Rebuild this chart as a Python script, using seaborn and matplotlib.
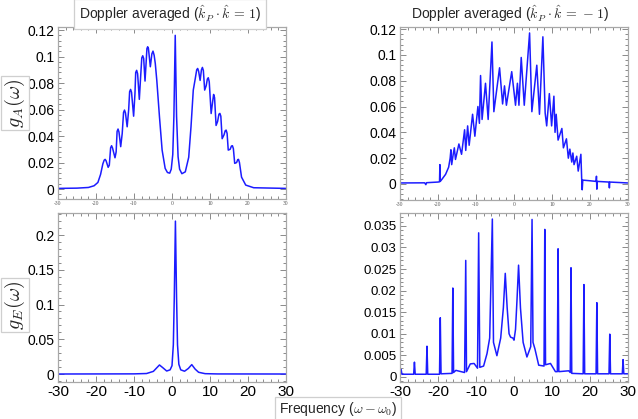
import matplotlib
matplotlib.use("Agg")
import matplotlib.pyplot as plt
from matplotlib.ticker import AutoMinorLocator, FixedLocator
import seaborn as sns

# --- data ---
# top-left: g_A(w), Doppler averaged, kP.k = 1
ga_plus_x = [-30, -25, -22, -20.5, -19.5, -18.8, -18.2, -17.85, -17.6, -17.35, -16.8,
             -16.5, -16.15, -15.9, -15.65, -15.0, -14.7, -14.45, -14.2, -13.95, -13.5,
             -13.1, -12.75, -12.5, -12.25, -11.8, -11.4, -11.15, -10.9, -10.65, -10.1,
             -9.75, -9.55, -9.3, -9.05, -8.6, -8.25, -7.95, -7.7, -7.45, -7.1, -6.8,
             -6.6, -6.4, -6.2, -5.7, -5.3, -5.0, -4.7, -4.4, -4.0, -3.3, -2.6, -1.8,
             -1.2, -0.6, -0.2, 0.2, 0.5, 0.85, 1.2, 1.6, 2.0, 2.6, 3.5, 4.4, 5.0, 5.6,
             6.1, 6.5, 6.75, 7.0, 7.4, 7.75, 8.0, 8.25, 8.6, 9.0, 9.3, 9.55, 9.8, 10.3,
             10.7, 10.95, 11.2, 11.6, 12.0, 12.35, 12.6, 12.85, 13.2, 13.7, 14.0, 14.25,
             14.5, 14.8, 15.3, 15.65, 15.9, 16.15, 16.5, 17.0, 17.3, 17.5, 17.75, 18.3,
             19.4, 21.5, 30]
ga_plus_y = [0.0005, 0.0007, 0.0012, 0.0025, 0.0050, 0.0110, 0.0190, 0.0218, 0.0224,
             0.0214, 0.0164, 0.0180, 0.0312, 0.0327, 0.0310, 0.0236, 0.0280, 0.0435,
             0.0453, 0.0430, 0.0320, 0.0420, 0.0578, 0.0596, 0.0575, 0.0470, 0.0600,
             0.0735, 0.0752, 0.0730, 0.0550, 0.0720, 0.0880, 0.0896, 0.0870, 0.0677,
             0.0850, 0.0990, 0.1006, 0.0985, 0.0815, 0.0960, 0.1060, 0.1074, 0.1060,
             0.0923, 0.1020, 0.1041, 0.1010, 0.0948, 0.0820, 0.0546, 0.0294, 0.0156,
             0.0125, 0.0120, 0.0150, 0.0260, 0.0550, 0.1160, 0.0550, 0.0244, 0.0150,
             0.0116, 0.0130, 0.0240, 0.0470, 0.0747, 0.0830, 0.0900, 0.0910, 0.0890,
             0.0820, 0.0900, 0.0918, 0.0895, 0.0747, 0.0780, 0.0830, 0.0840, 0.0810,
             0.0570, 0.0660, 0.0714, 0.0690, 0.0480, 0.0510, 0.0565, 0.0571, 0.0550,
             0.0380, 0.0410, 0.0440, 0.0445, 0.0420, 0.0294, 0.0300, 0.0325, 0.0327,
             0.0305, 0.0194, 0.0200, 0.0222, 0.0224, 0.0200, 0.0090, 0.0030, 0.0010,
             0.0005]

# top-right: g_A(w), Doppler averaged, kP.k = -1
ga_minus_x = [-30, -23.5, -23.2, -23.0, -20.0, -19.6, -19.5, -19.4, -19.0, -18.0,
              -17.2, -16.8, -16.6, -16.4, -16.0, -15.7, -15.4, -14.5, -13.8, -13.0,
              -12.7, -12.2, -11.8, -10.9, -10.3, -9.5, -9.1, -8.8, -8.4, -7.5, -6.8,
              -5.8, -5.3, -3.8, -3.0, -2.5, -2.0, -0.6, 0.4, 0.9, 1.3, 1.9, 2.7, 4.1,
              4.7, 6.0, 6.7, 7.6, 8.2, 8.6, 9.3, 9.9, 10.5, 10.8, 11.1, 11.6, 12.6,
              13.0, 13.8, 14.3, 14.7, 15.2, 15.5, 15.8, 16.5, 16.9, 17.6, 17.8, 17.95,
              18.1, 20.0, 21.6, 21.7, 21.8, 21.9, 25.0, 25.1, 25.2, 30]
ga_minus_y = [0.0008, 0.0009, -0.0005, 0.0010, 0.0015, 0.0017, 0.0150, 0.0020, 0.0035,
              0.0075, 0.0130, 0.0200, 0.0265, 0.0150, 0.0230, 0.0280, 0.0190, 0.0310,
              0.0230, 0.0420, 0.0260, 0.0450, 0.0300, 0.0540, 0.0370, 0.0600, 0.0470,
              0.0840, 0.0500, 0.0780, 0.0500, 0.1100, 0.0560, 0.0900, 0.0620, 0.0760,
              0.0610, 0.0870, 0.0610, 0.0780, 0.0610, 0.0980, 0.0610, 0.1170, 0.0560,
              0.0920, 0.0540, 0.1140, 0.0550, 0.0450, 0.0700, 0.0450, 0.0680, 0.0400,
              0.0540, 0.0340, 0.0430, 0.0280, 0.0350, 0.0200, 0.0270, 0.0170, 0.0240,
              0.0150, 0.0215, 0.0100, 0.0230, 0.0050, -0.0045, 0.0030, 0.0025, 0.0020,
              0.0060, -0.0040, 0.0020, 0.0015, -0.0030, 0.0015, 0.0008]

# bottom-left: g_E(w), kP.k = 1
ge_plus_x = [-30, -10, -6.7, -4.9, -3.3, -2.4, -1.4, -0.5, 0.0, 0.35, 0.6, 0.9, 1.2,
             1.45, 1.8, 2.3, 3.3, 4.3, 5.2, 6.1, 7.0, 8.7, 12, 30]
ge_plus_y = [0.0, 0.0002, 0.0007, 0.0038, 0.0130, 0.0090, 0.0043, 0.0060, 0.0120,
             0.0420, 0.1100, 0.2200, 0.1100, 0.0420, 0.0140, 0.0060, 0.0040, 0.0080,
             0.0135, 0.0070, 0.0025, 0.0005, 0.0001, 0.0]

# bottom-right: g_E(w), kP.k = -1 (narrow lines plus a broad central part)
ge_minus_x = [-30, -29.7, -29.5, -26.4, -26.2, -26.0, -23.1, -22.9, -22.7, -19.6, -19.4,
              -19.2, -16.3, -16.1, -15.9, -15.3, -13.0, -12.7, -12.5, -11.5, -10.5,
              -9.6, -9.3, -9.0, -8.0, -7.1, -6.4, -5.7, -5.4, -4.5, -3.5, -2.8, -2.3,
              -1.8, -1.3, -0.9, -0.3, 0.0, 0.4, 0.8, 1.2, 1.7, 2.4, 3.4, 4.4, 4.75,
              5.0, 5.5, 6.5, 7.9, 8.1, 8.3, 9.6, 10.9, 11.4, 11.6, 11.8, 14.4, 14.8,
              15.0, 15.2, 18.2, 18.4, 18.6, 21.6, 21.8, 22.0, 25.0, 25.2, 25.4, 28.5,
              28.7, 28.9, 30]
ge_minus_y = [0.0014, 0.0017, 0.0006, 0.0006, 0.0034, 0.0006, 0.0006, 0.0071, 0.0006,
              0.0006, 0.0137, 0.0007, 0.0008, 0.0206, 0.0010, 0.0015, 0.0010, 0.0270,
              0.0012, 0.0030, 0.0031, 0.0020, 0.0334, 0.0022, 0.0025, 0.0054, 0.0090,
              0.0366, 0.0080, 0.0049, 0.0090, 0.0160, 0.0240, 0.0160, 0.0100, 0.0092,
              0.0090, 0.0085, 0.0110, 0.0180, 0.0259, 0.0160, 0.0080, 0.0046, 0.0070,
              0.0365, 0.0080, 0.0065, 0.0027, 0.0025, 0.0342, 0.0028, 0.0031, 0.0012,
              0.0012, 0.0297, 0.0012, 0.0014, 0.0010, 0.0253, 0.0008, 0.0007, 0.0214,
              0.0007, 0.0007, 0.0172, 0.0007, 0.0007, 0.0099, 0.0007, 0.0007, 0.0040,
              0.0007, 0.0007]

top_yticks = [0, 0.02, 0.04, 0.06, 0.08, 0.1, 0.12]
top_ylabels = ["0", "0.02", "0.04", "0.06", "0.08", "0.1", "0.12"]
bl_yticks = [0, 0.05, 0.1, 0.15, 0.2]
bl_ylabels = ["0", "0.05", "0.1", "0.15", "0.2"]
br_yticks = [0, 0.005, 0.01, 0.015, 0.02, 0.025, 0.03, 0.035]
br_ylabels = ["0", "0.005", "0.01", "0.015", "0.02", "0.025", "0.03", "0.035"]
xticks = [-30, -20, -10, 0, 10, 20, 30]
xlabels = ["-30", "-20", "-10", "0", "10", "20", "30"]

LINE = "#1c1cff"
FRAME = "#a8a8a8"
BOXC = "#cfcfcf"

sns.set_style("ticks")
plt.rcParams["font.family"] = ["Liberation Sans", "DejaVu Sans"]
plt.rcParams["mathtext.fontset"] = "cm"
plt.rcParams["axes.unicode_minus"] = False

W, H = 638, 419
fig = plt.figure(figsize=(W / 100, H / 100), dpi=100)


def add_ax(left, top, right, bottom):
    return fig.add_axes([left / W, 1 - bottom / H, (right - left) / W, (bottom - top) / H])


def style(ax, yticks, ylabels, ylim, big_x, xpad=2.0, ysize=10):
    ax.set_xlim(-30, 30)
    ax.set_ylim(*ylim)
    ax.xaxis.set_major_locator(FixedLocator(xticks))
    ax.set_xticklabels(xlabels)
    ax.set_yticks(yticks)
    ax.set_yticklabels(ylabels)
    ax.xaxis.set_minor_locator(AutoMinorLocator(5))
    ax.yaxis.set_minor_locator(AutoMinorLocator(5))
    for s in ax.spines.values():
        s.set_color(FRAME)
        s.set_linewidth(0.9)
    ax.tick_params(which="both", direction="in", top=True, right=True, color="#8a8a8a",
                   width=0.7)
    ax.tick_params(which="major", length=4)
    ax.tick_params(which="minor", length=2)
    ax.tick_params(axis="y", labelsize=ysize, pad=2.5, labelcolor="black")
    if big_x:
        ax.tick_params(axis="x", labelsize=11, pad=xpad, labelcolor="black")
    else:
        ax.tick_params(axis="x", labelsize=4, pad=1.2, labelcolor="#555555")
        for t in ax.get_xticklabels():
            t.set_fontfamily("Liberation Serif")
    ax.set_xlabel("")
    ax.set_ylabel("")


ax_tl = add_ax(58, 27, 286, 199)
ax_tr = add_ax(400, 27, 628, 200)
ax_bl = add_ax(58, 213, 286, 382)
ax_br = add_ax(400, 213, 628, 382)

sns.lineplot(x=ga_plus_x, y=ga_plus_y, ax=ax_tl, color=LINE, linewidth=1.1,
             sort=False, estimator=None)
sns.lineplot(x=ga_minus_x, y=ga_minus_y, ax=ax_tr, color=LINE, linewidth=1.1,
             sort=False, estimator=None)
sns.lineplot(x=ge_plus_x, y=ge_plus_y, ax=ax_bl, color=LINE, linewidth=1.1,
             sort=False, estimator=None)
sns.lineplot(x=ge_minus_x, y=ge_minus_y, ax=ax_br, color=LINE, linewidth=1.1,
             sort=False, estimator=None)

style(ax_tl, top_yticks, top_ylabels, (-0.0075, 0.1223), big_x=False)
style(ax_tr, top_yticks, top_ylabels, (-0.0124, 0.1216), big_x=False)
style(ax_bl, bl_yticks, bl_ylabels, (-0.0115, 0.2317), big_x=True, xpad=2.0)
style(ax_br, br_yticks, br_ylabels, (-0.0012, 0.0380), big_x=True, xpad=2.0, ysize=9.5)

box = dict(boxstyle="square,pad=0.35", facecolor="white", edgecolor=BOXC, linewidth=0.9)
small_box = dict(boxstyle="square,pad=0.25", facecolor="white", edgecolor=BOXC,
                 linewidth=0.9)
label_box = dict(boxstyle="square,pad=0.12", facecolor="white", edgecolor=BOXC,
                 linewidth=0.9)

fig.text(170 / W, 1 - 14 / H, r"Doppler averaged ($\hat{k}_P\cdot\hat{k}\,=\,1$)",
         ha="center", va="center", fontsize=10, bbox=box)
fig.text(510 / W, 1 - 14 / H, r"Doppler averaged ($\hat{k}_P\cdot\hat{k}\,=\,-1$)",
         ha="center", va="center", fontsize=10)
fig.text(15 / W, 1 - 103 / H, r"$g_A(\omega)$", rotation=90, ha="center", va="center",
         fontsize=14.5, bbox=label_box)
fig.text(15 / W, 1 - 305 / H, r"$g_E(\omega)$", rotation=90, ha="center", va="center",
         fontsize=14.5, bbox=label_box)
fig.text(338 / W, 1 - 409 / H, r"Frequency ($\omega-\omega_0$)", ha="center",
         va="center", fontsize=10, bbox=small_box)

fig.savefig("out.png", dpi=100)
